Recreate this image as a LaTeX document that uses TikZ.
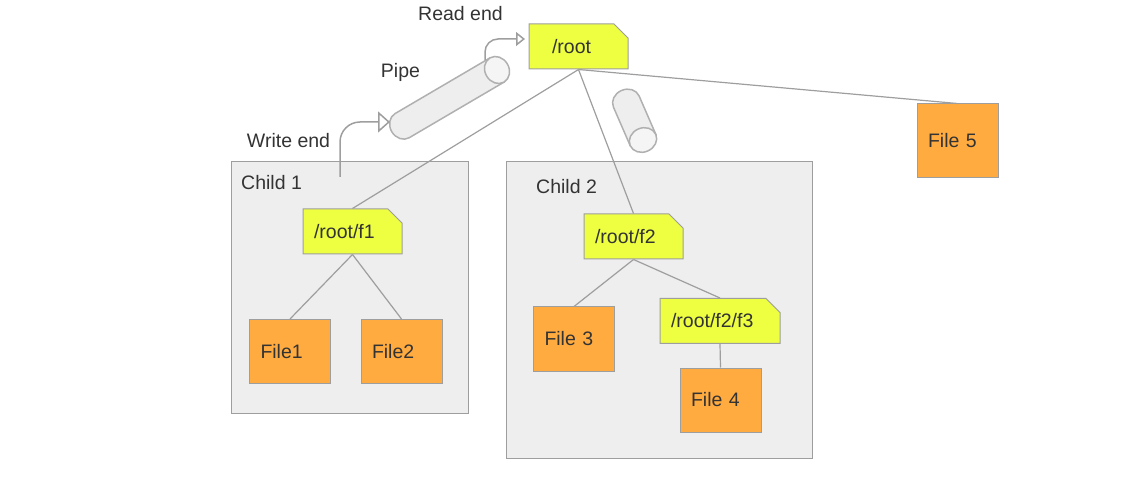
\documentclass[tikz,border=0pt]{standalone}
\usepackage{fontspec}
\setmainfont{Liberation Sans}
\usetikzlibrary{arrows.meta,shapes.misc}
\definecolor{linegray}{HTML}{9E9E9E}
\definecolor{boxgray}{HTML}{EEEEEE}
\definecolor{tubelight}{HTML}{F5F5F5}
\definecolor{tubeline}{HTML}{B0B0B0}
\definecolor{noteyellow}{HTML}{EEFF41}
\definecolor{fileorange}{HTML}{FFAB40}
\definecolor{textgray}{HTML}{333333}
\begin{document}
\begin{tikzpicture}[
			x = 1pt,
			y = -1pt,
			every node/.style = {font=\fontsize{19.5}{23}\selectfont,text=textgray},
			childbox/.style = {draw=linegray,line width=1pt,fill=boxgray},
			filebox/.style = {draw=linegray,line width=1pt,fill=fileorange,minimum width=81pt,minimum height=64pt,text width=59pt,inner sep=0pt,align=left},
			notebox/.style = {chamfered rectangle,chamfered rectangle corners=north east,chamfered rectangle xsep=7pt,chamfered rectangle ysep=7pt,draw=linegray,line width=1pt,fill=noteyellow,minimum width=#1,minimum height=45pt,text width=#1-22pt,inner sep=0pt,align=left},
			link/.style = {draw=linegray,line width=1.2pt},
			pipearrow/.style = {draw=linegray,line width=1.5pt},
			pics/tube/.style = {code={
				\draw[draw=tubeline,line width=1.5pt,fill=boxgray] (0,14) -- (-#1,14) arc[start angle=270,end angle=90,x radius=12pt,y radius=14pt] -- (0,-14) -- cycle;
				\draw[draw=tubeline,line width=1.5pt,fill=tubelight] (0,0) ellipse[x radius=12pt,y radius=14pt];
			}}
			]
			\useasboundingbox (0,0) rectangle (1122,486);

			\node[childbox,minimum width=237pt,minimum height=251pt] (child1) at (349.5,287.5) {};
			\node[childbox,minimum width=306pt,minimum height=296pt] (child2) at (659,310) {};
			\node[anchor=west] (child1label) at (237.7,183) {Child 1};
			\node[anchor=west] (child2label) at (532.7,187) {Child 2};

			\node[notebox=99pt] (root) at (578.5,46.5) {\hspace*{12pt}/root};
			\node[notebox=99pt] (f1) at (352.5,231.5) {/root/f1};
			\node[notebox=99pt] (f2) at (633.5,236.5) {/root/f2};
			\node[notebox=120pt] (f3) at (720,321) {/root/f2/f3};

			\node[filebox] (file1) at (290,351.5) {File1};
			\node[filebox] (file2) at (401.5,351.5) {File2};
			\node[filebox] (file3) at (574,339) {File 3};
			\node[filebox] (file4) at (720.5,400) {File 4};
			\node[filebox,minimum height=74pt] (file5) at (957.5,141) {File 5};

			\draw[link] (root.south) -- (f1.north);
			\draw[link] (root.south) -- (f2.north);
			\draw[link] (root.south) -- (file5.north);
			\draw[link] (f1.south) -- (file1.north);
			\draw[link] (f1.south) -- (file2.north);
			\draw[link] (f2.south) -- (file3.north);
			\draw[link] (f2.south) -- (f3.north);
			\draw[link] (f3.south) -- (file4.north);

			\pic[rotate=30.4] at (497,70) {tube=110};
			\pic[rotate=-66.5] at (643,140) {tube=42};

			\coordinate (writestart) at (340,177);
			\coordinate (writetip) at (390,122);
			\coordinate (readstart) at (485,60);
			\coordinate (readtip) at (525,39);
			\draw[pipearrow,rounded corners=20pt,-{Triangle[open,length=12pt,width=21pt,fill=white]}] (writestart) |- (writetip);
			\draw[pipearrow,rounded corners=13pt,-{Triangle[open,length=9pt,width=14pt,fill=white]}] (readstart) |- (readtip);

			\node (readlabel) at (460.5,14) {Read end};
			\node (pipelabel) at (400.5,72) {Pipe};
			\node (writelabel) at (288.5,141) {Write end};
		\end{tikzpicture}
\end{document}
